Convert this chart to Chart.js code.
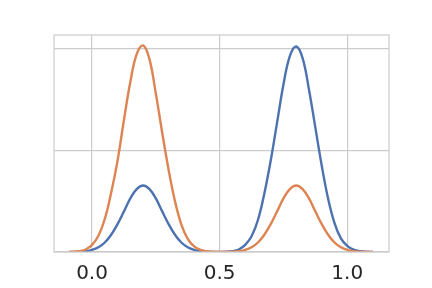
<!DOCTYPE html>
<html>
<head>
<meta charset="utf-8">
<script src="https://cdn.jsdelivr.net/npm/chart.js@4/dist/chart.umd.min.js"></script>
<style>
html,body{margin:0;padding:0;background:#fff;}
#wrap{width:432px;height:288px;}
</style>
</head>
<body>
<div id="wrap"><canvas id="c" width="432" height="288"></canvas></div>
<script>
const xs = [-0.09,-0.075,-0.05,-0.025,0,0.025,0.05,0.075,0.1,0.125,0.15,0.175,0.2,0.225,0.25,0.275,0.3,0.325,0.35,0.375,0.4,0.425,0.45,0.475,0.5,0.525,0.55,0.575,0.6,0.625,0.65,0.675,0.7,0.725,0.75,0.775,0.8,0.825,0.85,0.875,0.9,0.925,0.95,0.975,1.0,1.025,1.05,1.075,1.1];
const blueVals = [0.001,0.002,0.006,0.016,0.041,0.093,0.187,0.34,0.55,0.80,1.055,1.24,1.31,1.24,1.055,0.80,0.55,0.34,0.187,0.093,0.041,0.016,0.006,0.003,0.003,0.005,0.017,0.049,0.14,0.31,0.63,1.15,1.8,2.55,3.3,3.86,4.05,3.82,3.2,2.45,1.7,1.05,0.57,0.27,0.12,0.045,0.016,0.005,0.001];
const orangeVals = [0.002,0.005,0.018,0.05,0.14,0.32,0.65,1.17,1.8,2.6,3.35,3.9,4.07,3.8,3.12,2.35,1.62,1.0,0.54,0.26,0.11,0.04,0.014,0.005,0.003,0.003,0.006,0.016,0.041,0.093,0.187,0.34,0.55,0.80,1.055,1.24,1.31,1.24,1.055,0.80,0.55,0.34,0.187,0.093,0.041,0.016,0.006,0.002,0.001];
const xTicks = [0, 0.5, 1.0];
const yTicks = [0, 2, 4];

const toPts = v => xs.map((x, i) => ({x: x, y: v[i]}));

const frame = {
  id: 'frame',
  afterDraw(chart) {
    const a = chart.chartArea, ctx = chart.ctx;
    ctx.save();
    ctx.strokeStyle = '#cccccc';
    ctx.lineWidth = 1.2;
    ctx.strokeRect(a.left, a.top, a.right - a.left, a.bottom - a.top);
    ctx.restore();
  }
};

new Chart(document.getElementById('c'), {
  type: 'line',
  data: {
    datasets: [
      {data: toPts(blueVals), borderColor: '#4c72b0', borderWidth: 2.4, pointRadius: 0, fill: false, tension: 0.4, order: 1},
      {data: toPts(orangeVals), borderColor: '#dd8452', borderWidth: 2.4, pointRadius: 0, fill: false, tension: 0.4, order: 0}
    ]
  },
  options: {
    responsive: false,
    animation: false,
    layout: {padding: {left: 54, right: 43, top: 35, bottom: 0}},
    plugins: {legend: {display: false}, tooltip: {enabled: false}},
    scales: {
      x: {
        type: 'linear',
        min: -0.149, max: 1.1635,
        afterBuildTicks: s => { s.ticks = xTicks.map(v => ({value: v})); },
        afterFit: s => { s.height = 36; },
        grid: {color: '#cccccc', lineWidth: 1.2, drawTicks: false},
        border: {display: false},
        ticks: {
          padding: 10,
          color: '#262626',
          font: {family: 'DejaVu Sans', size: 20},
          maxRotation: 0,
          callback: v => v.toFixed(1)
        }
      },
      y: {
        type: 'linear',
        min: 0, max: 4.276,
        afterBuildTicks: s => { s.ticks = yTicks.map(v => ({value: v})); },
        afterFit: s => { s.width = 0; },
        grid: {color: '#cccccc', lineWidth: 1.2, drawTicks: false},
        border: {display: false},
        ticks: {display: false}
      }
    }
  },
  plugins: [frame]
});
</script>
</body>
</html>
